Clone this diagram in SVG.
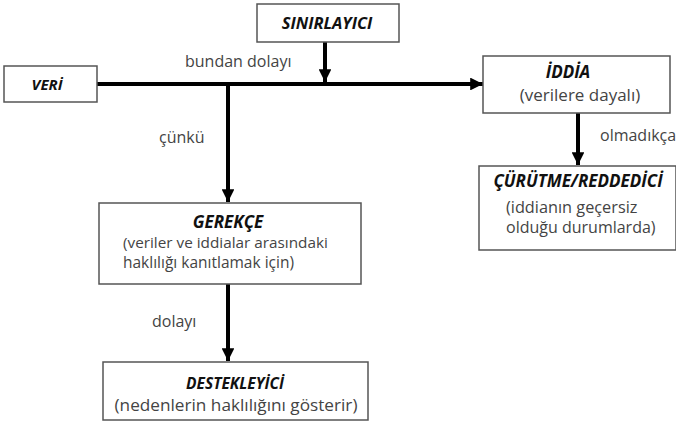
<svg xmlns="http://www.w3.org/2000/svg" width="676" height="422" viewBox="0 0 676 422">
  <defs>
    <marker id="arr" viewBox="0 0 10 10" refX="10" refY="5" markerWidth="3.2" markerHeight="3.2" markerUnits="strokeWidth" orient="auto">
      <path d="M0,0 L10,5 L0,10 z" fill="#000"/>
    </marker>
  </defs>
  <style>
    .box { fill: #fff; stroke: #555; stroke-width: 1.5; }
    .head { font-family: "Open Sans", "Liberation Sans", sans-serif; font-weight: bold; font-style: italic; font-size: 16.5px; fill: #111; }
    .txt { font-family: "Open Sans", "Liberation Sans", sans-serif; font-size: 16px; fill: #444; }
    .lbl { font-family: "Open Sans", "Liberation Sans", sans-serif; font-size: 16px; fill: #444; }
    .con { stroke: #000; stroke-width: 4; fill: none; }
  </style>
  <rect width="676" height="422" fill="#fff"/>

  <g id="connectors">
    <line class="con" x1="97" y1="84" x2="483" y2="84" marker-end="url(#arr)"/>
    <line class="con" x1="325" y1="42" x2="325" y2="82" marker-end="url(#arr)"/>
    <line class="con" x1="228" y1="84" x2="228" y2="202" marker-end="url(#arr)"/>
    <line class="con" x1="578" y1="113" x2="578" y2="165" marker-end="url(#arr)"/>
    <line class="con" x1="228" y1="284" x2="228" y2="361" marker-end="url(#arr)"/>
    <text class="lbl" x="185" y="67">bundan dolayı</text>
    <text class="lbl" x="159" y="143">çünkü</text>
    <text class="lbl" x="152" y="327">dolayı</text>
    <text class="lbl" x="600" y="141">olmadıkça</text>
  </g>

  <g id="sinirlayici">
    <rect class="box" x="257" y="4" width="142" height="38"/>
    <text class="head" x="327" y="29" text-anchor="middle">SINIRLAYICI</text>
  </g>

  <g id="veri">
    <rect class="box" x="4" y="66" width="93" height="36"/>
    <text class="head" x="47" y="90" text-anchor="middle" style="font-size:15px">VERİ</text>
  </g>

  <g id="iddia">
    <rect class="box" x="483" y="56" width="187" height="57"/>
    <text class="head" x="568" y="78" text-anchor="middle" style="font-size:17px">İDDİA</text>
    <text class="txt" x="580" y="101" text-anchor="middle" style="font-size:17px">(verilere dayalı)</text>
  </g>

  <g id="curutme">
    <rect class="box" x="479" y="166" width="197" height="84"/>
    <text class="head" x="578" y="187" text-anchor="middle" style="font-size:17px">ÇÜRÜTME/REDDEDİCİ</text>
    <text class="txt" x="506" y="213" style="font-size:16.3px">(iddianın geçersiz</text>
    <text class="txt" x="506" y="233">olduğu durumlarda)</text>
  </g>

  <g id="gerekce">
    <rect class="box" x="99" y="203" width="262" height="81"/>
    <text class="head" x="228" y="228" text-anchor="middle" style="font-size:17px">GEREKÇE</text>
    <text class="txt" x="123" y="248" style="font-size:15.3px">(veriler ve iddialar arasındaki</text>
    <text class="txt" x="123" y="268" style="font-size:15.5px">haklılığı kanıtlamak için)</text>
  </g>

  <g id="destekleyici">
    <rect class="box" x="103" y="362" width="265" height="58"/>
    <text class="head" x="235" y="389" text-anchor="middle" style="font-size:15.5px">DESTEKLEYİCİ</text>
    <text class="txt" x="236" y="411" text-anchor="middle" style="font-size:17.2px">(nedenlerin haklılığını gösterir)</text>
  </g>
</svg>
